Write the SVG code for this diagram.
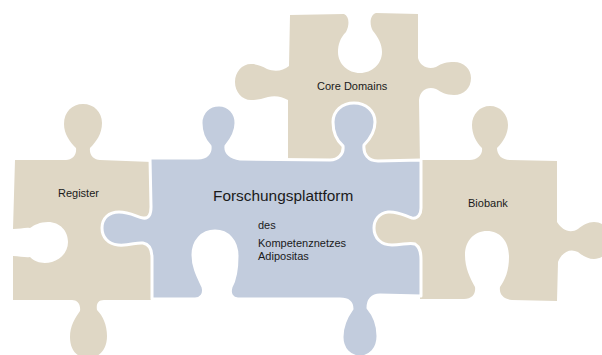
<svg xmlns="http://www.w3.org/2000/svg" width="602" height="355" viewBox="0 0 602 355">
<style>
.tan{fill:#DFD7C5;stroke:none}
.blue{fill:#C2CCDD;stroke:#FFFFFF;stroke-width:3;stroke-linejoin:round}
.lbl{font-family:"Liberation Sans",Arial,sans-serif;font-size:11px;fill:#1a1a1a}
.title{font-family:"Liberation Sans",Arial,sans-serif;font-size:15.4px;fill:#1a1a1a}
</style>
<rect width="602" height="355" fill="#FFFFFF"/>
<g id="register">
<path class="tan" d="M15 160 L66 160 C72 160 77 155 76 148 C70 142 64 134 64 124 C64 112 72 104 83 104 C94 104 102 112 102 123 C102 134 96 142 90 148 C89 155 94 160 100 160 L152 162 L152 300 L104 300 C98 300 96 304 97 310 C103 316 107 325 107 336 C107 350 99 358 88 358 C77 358 70 350 70 337 C70 326 75 318 80 311 C81 304 77 300 72 300 L13 300 L13 256 C20 256 26 258 30 257 C36 263 44 264 52 262 C62 259 68 251 68 242 C68 231 60 222 48 222 C40 222 34 225 30 228 C26 227 20 229 13 229 Z"/>
<text class="lbl" x="58" y="197">Register</text>
</g>
<g id="core-domains">
<path class="tan" d="M290 15 L344 14 C349 16 350 24 346 32 C340 38 338 45 338 52 C338 64 348 73 360 73 C372 73 382 64 382 52 C382 44 378 37 373 31 C369 24 370 15 376 13 L418 14 L418 58 C420 66 428 70 436 67 C442 63 447 62 454 62 C464 62 471 69 471 78 C471 88 464 95 454 95 C446 95 441 92 436 89 C428 86 420 90 419 100 L420 165 L288 165 L288 100 C282 97 276 95 268 97 C262 99 257 100 251 100 C242 100 235 92 235 82 C235 72 242 64 251 64 C257 64 262 66 267 69 C275 72 283 71 289 66 Z"/>
<text class="lbl" x="317" y="90">Core Domains</text>
</g>
<g id="biobank">
<path class="tan" d="M420 160 L470 160 C477 160 483 155 482 148 C476 142 472 134 472 125 C472 114 480 106 490 106 C500 106 508 114 508 125 C508 134 503 142 497 148 C497 155 502 160 510 160 L557 161 L557 222 C562 230 570 234 578 229 C583 225 588 222 594 222 C604 222 610 230 610 241 C610 252 603 259 594 259 C588 259 583 256 578 252 C570 248 562 252 558 262 L557 301 L512 300 C503 299 499 294 500 287 C505 280 509 271 509 257 C509 241 500 231 487 231 C474 231 465 241 465 255 C465 268 470 278 475 287 C476 294 472 299 464 299 L420 299 L420 260 C420 252 420 247 415 244 C410 242 402 245 392 245 C381 245 374 238 374 228 C374 220 379 213 388 212 C398 211 405 216 412 218 C418 219 420 214 420 208 Z"/>
<text class="lbl" x="468" y="207">Biobank</text>
</g>
<g id="forschungsplattform">
<path class="blue" d="M150 158 L198 158 C206 158 211 153 210 146 C204 140 201 132 201 123 C201 112 209 105 219 105 C229 105 236 113 236 123 C236 132 231 140 226 146 C225 153 231 158 240 159 L330 160 C338 160 344 154 343 146 C336 140 333 131 333 122 C333 111 342 103 354 103 C366 103 375 111 375 122 C375 131 370 139 364 145 C363 154 368 161 378 161 L421 160 L421 208 C421 214 418 219 412 218 C405 216 398 211 388 212 C379 213 374 220 374 228 C374 238 381 245 392 245 C402 245 410 242 415 244 C420 247 421 252 421 260 L421 296 L380 295 C372 295 368 300 368 308 C374 315 378 324 378 336 C378 349 370 357 360 357 C350 357 342 349 342 337 C342 325 347 316 352 309 C352 302 348 299 340 299 L238 299 C232 299 229 294 231 287 C235 280 237 271 237 256 C237 241 228 231 215 231 C202 231 193 241 193 255 C193 268 199 278 203 287 C205 294 201 299 195 299 L152 299 L152 258 C152 250 149 244 143 243 C136 242 130 246 118 245 C108 244 102 237 102 228 C102 218 109 212 119 212 C130 212 137 217 143 218 C149 219 151 214 151 207 Z"/>
<text class="title" x="213" y="201">Forschungsplattform</text>
<text class="lbl" x="258" y="229">des</text>
<text class="lbl" x="258" y="247">Kompetenznetzes</text>
<text class="lbl" x="258" y="260">Adipositas</text>
</g>
<g id="connectors"></g>
</svg>
